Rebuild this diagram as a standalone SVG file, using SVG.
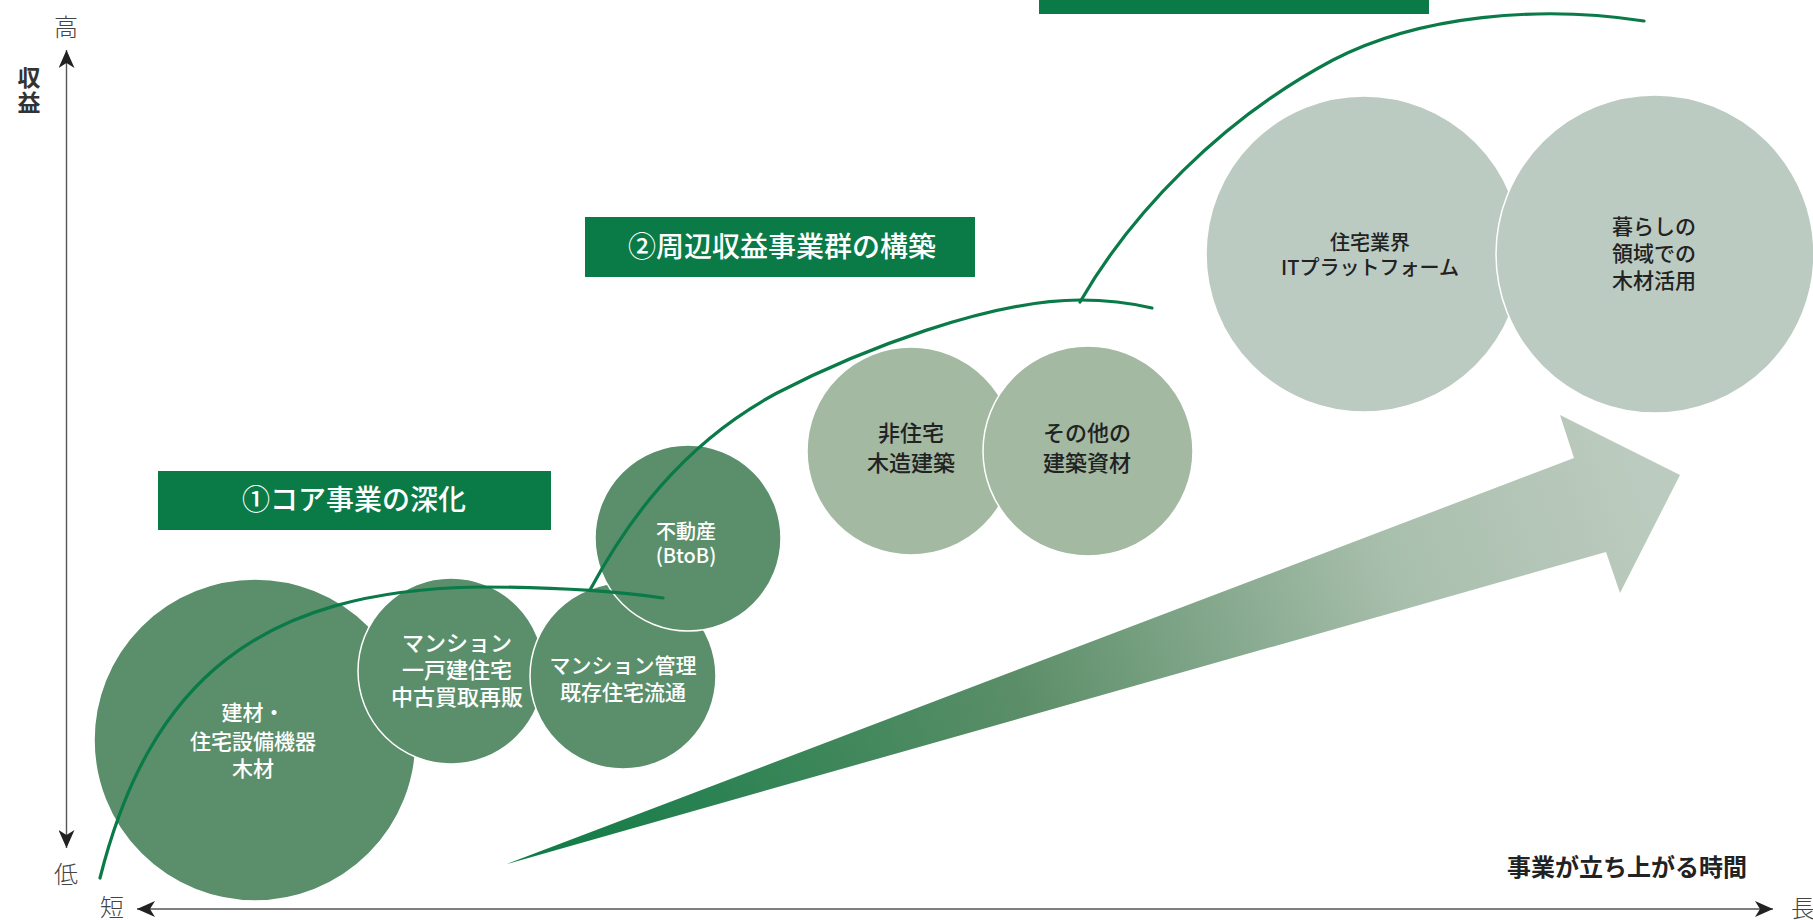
<svg xmlns="http://www.w3.org/2000/svg" width="1813" height="920" viewBox="0 0 1813 920">
  <style>
    .t { font-family: "Noto Sans CJK JP", "Noto Sans", sans-serif; text-anchor: middle; }
    .w { fill: #ffffff; font-size: 21px; font-weight: 500; }
    .d { fill: #222222; font-size: 21px; font-weight: 500; }
    .ax { fill: #444444; font-size: 24px; font-weight: 300; }
    .dark { fill: #5b8f6b; stroke: #ffffff; stroke-width: 1.5; }
    .mid { fill: #a3b9a2; stroke: #ffffff; stroke-width: 1.5; }
    .light { fill: #bccbc1; stroke: #ffffff; stroke-width: 1.5; }
    .box { fill: #0a7a47; }
    .bt { fill: #ffffff; font-size: 28px; font-weight: 500; }
    .curve { fill: none; stroke: #0a7a48; stroke-width: 3.2; stroke-linecap: round; }
    .axis { fill: none; stroke: #555555; stroke-width: 1.4; }
  </style>
  <defs>
    <marker id="ah" viewBox="0 0 18 16" refX="18" refY="8" markerWidth="18" markerHeight="16" orient="auto-start-reverse" markerUnits="userSpaceOnUse">
      <path d="M0,0 L18,8 L0,16 L5,8 z" fill="#222222"/>
    </marker>
    <linearGradient id="arrowGrad" gradientUnits="userSpaceOnUse" x1="507" y1="864" x2="1640" y2="470">
      <stop offset="0" stop-color="#0c7a44"/>
      <stop offset="0.45" stop-color="#5b8e68"/>
      <stop offset="0.78" stop-color="#a9bfad"/>
      <stop offset="1" stop-color="#bccbbf"/>
    </linearGradient>
  </defs>

  <!-- axes -->
  <g id="axes">
    <line class="axis" x1="66.5" y1="848" x2="66.5" y2="50" marker-start="url(#ah)" marker-end="url(#ah)"/>
    <line class="axis" x1="137" y1="909" x2="1773" y2="909" marker-start="url(#ah)" marker-end="url(#ah)"/>
    <text class="t ax" x="66" y="36">高</text>
    <text class="t ax" x="66" y="883">低</text>
    <text class="t ax" x="112" y="916">短</text>
    <text class="t ax" x="1791" y="917" style="text-anchor:start">長</text>
    <text class="t" x="29" y="86" style="font-size:23px;font-weight:700;fill:#333">収</text>
    <text class="t" x="29" y="111" style="font-size:23px;font-weight:700;fill:#333">益</text>
    <text class="t" x="1627" y="876" style="font-size:24px;font-weight:700;fill:#222">事業が立ち上がる時間</text>
  </g>

  <!-- big gradient arrow -->
  <g id="growth-arrow">
    <path d="M507,864 L1574,458 L1560,415 L1680,475 L1620,593 L1606,552 Z" fill="url(#arrowGrad)"/>
  </g>

  <!-- nodes -->
  <g id="node-kenzai">
    <circle class="dark" cx="255" cy="740" r="161" stroke="none"/>
    <text class="t w" x="253" y="720">建材・</text>
    <text class="t w" x="253" y="749">住宅設備機器</text>
    <text class="t w" x="253" y="776">木材</text>
  </g>
  <g id="node-mansion">
    <circle class="dark" cx="451" cy="671" r="93"/>
    <text class="t w" x="457" y="651" style="font-size:22px">マンション</text>
    <text class="t w" x="457" y="678" style="font-size:22px">一戸建住宅</text>
    <text class="t w" x="457" y="705" style="font-size:22px">中古買取再販</text>
  </g>
  <g id="node-kanri">
    <circle class="dark" cx="623" cy="676" r="93"/>
    <text class="t w" x="623" y="673">マンション管理</text>
    <text class="t w" x="623" y="700">既存住宅流通</text>
  </g>
  <g id="node-fudousan">
    <circle class="dark" cx="688" cy="538" r="93"/>
    <text class="t w" x="686" y="539" style="font-size:20px">不動産</text>
    <text class="t w" x="686" y="563" style="font-size:20px">(BtoB)</text>
  </g>
  <g id="node-hijutaku">
    <circle class="mid" cx="911" cy="451" r="104" stroke="none"/>
    <text class="t d" x="911" y="441" style="font-size:22px">非住宅</text>
    <text class="t d" x="911" y="471" style="font-size:22px">木造建築</text>
  </g>
  <g id="node-sonota">
    <circle class="mid" cx="1088" cy="451" r="105"/>
    <text class="t d" x="1087" y="441" style="font-size:22px">その他の</text>
    <text class="t d" x="1087" y="471" style="font-size:22px">建築資材</text>
  </g>
  <g id="node-it">
    <circle class="light" cx="1364" cy="254" r="158" stroke="none"/>
    <text class="t d" x="1370" y="250" style="font-size:20px">住宅業界</text>
    <text class="t d" x="1370" y="275" style="font-size:20px">ITプラットフォーム</text>
  </g>
  <g id="node-kurashi">
    <circle class="light" cx="1655" cy="254" r="159"/>
    <text class="t d" x="1654" y="234">暮らしの</text>
    <text class="t d" x="1654" y="261">領域での</text>
    <text class="t d" x="1654" y="288">木材活用</text>
  </g>

  <!-- label boxes -->
  <g id="label-core">
    <rect class="box" x="158" y="471" width="393" height="59"/>
    <text class="t bt" x="354" y="510">①コア事業の深化</text>
  </g>
  <g id="label-peripheral">
    <rect class="box" x="585" y="217" width="390" height="60"/>
    <text class="t bt" x="782" y="257">②周辺収益事業群の構築</text>
  </g>
  <g id="label-top">
    <rect class="box" x="1039" y="-10" width="390" height="24"/>
  </g>

  <!-- connectors (growth curves) -->
  <g id="connectors">
    <path class="curve" d="M100,878 C150,680 260,590 480,587 C560,587 620,592 663,598"/>
    <path class="curve" d="M590,590 C625,525 680,445 777,393 C860,350 990,300 1080,300 C1110,300 1135,304 1152,308"/>
    <path class="curve" d="M1080,302 C1130,215 1220,120 1333,60 C1420,15 1540,5 1644,21"/>
  </g>
</svg>
